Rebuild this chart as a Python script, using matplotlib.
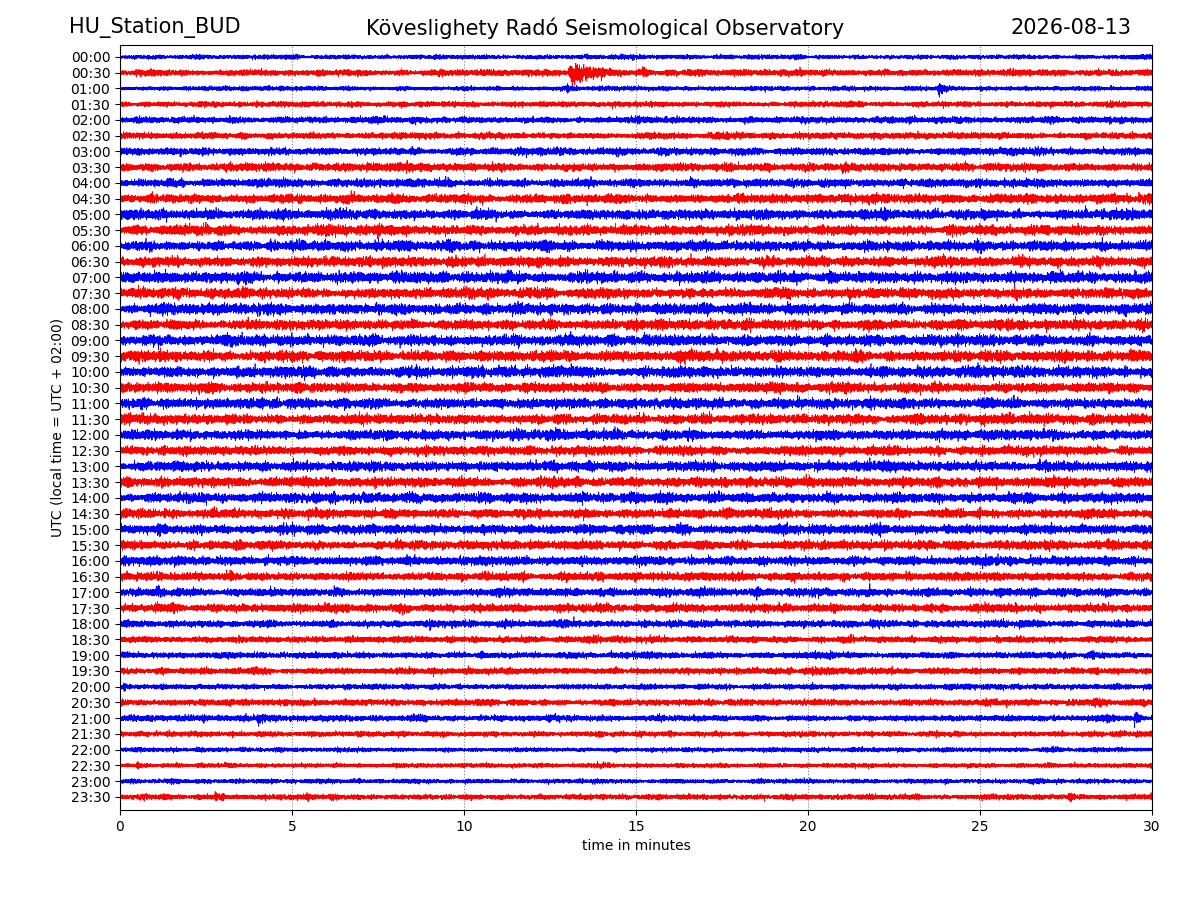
import numpy as np
import matplotlib
matplotlib.use("Agg")
import matplotlib.pyplot as plt

# row labels, half hour steps through the day
row_labels = [f"{h:02d}:{m:02d}" for h in range(24) for m in (0, 30)]

# typical half-width of each trace band (pixels)
band_px = [2.5, 3.5, 2.5, 3.0, 3.5, 3.5, 4.0, 4.5, 4.5, 5.0,
           5.5, 5.5, 5.5, 5.5, 6.0, 5.5, 6.0, 5.5, 6.0, 6.0,
           6.0, 5.5, 5.5, 5.5, 5.5, 5.0, 5.5, 5.5, 5.5, 5.0,
           5.0, 5.0, 5.0, 4.5, 4.5, 4.5, 4.0, 3.5, 3.5, 3.5,
           3.0, 3.5, 3.5, 3.0, 2.5, 2.5, 2.5, 3.0]

# visible events: row index, onset minute, peak half-width (px), duration (min)
event_row = [1, 1, 1, 2, 2, 4, 4, 7, 22, 24, 29, 31, 34, 34, 38, 40, 42, 42, 45, 47]
event_min = [13.1, 15.2, 9.3, 23.8, 13.0, 15.0, 12.0, 4.2, 19.7, 8.8,
             1.3, 28.7, 11.0, 18.5, 10.5, 0.1, 4.0, 29.5, 0.5, 27.6]
event_px = [11.0, 6.0, 5.0, 7.5, 4.5, 5.5, 5.0, 6.0, 8.0, 7.0,
            7.0, 7.0, 6.5, 6.0, 5.0, 5.0, 6.0, 8.0, 5.0, 6.5]
event_dur = [2.8, 0.6, 0.6, 0.7, 0.5, 0.6, 0.3, 0.5, 0.3, 0.6,
             0.2, 0.6, 0.4, 1.0, 0.4, 0.3, 1.3, 0.5, 0.4, 0.4]

ROW_PX = 15.74      # pixel distance between two rows
N = 18000           # samples per 30 min row
minutes = np.linspace(0, 30, N)

# the fine noise texture cannot be read from the picture; a fixed seed
# keeps it reproducible, only its amplitude comes from the values above
rng = np.random.default_rng(7)


def trace(i):
    carrier = rng.standard_normal(N)
    slow = np.convolve(rng.standard_normal(N + 299), np.hanning(300), "valid")
    slow /= slow.std()
    env = np.full(N, band_px[i] / 3.0) * (1 + 0.15 * slow)
    for r, t0, px, dur in zip(event_row, event_min, event_px, event_dur):
        if r != i:
            continue
        dt = minutes - t0
        burst = np.where(dt >= 0, np.exp(-dt / (dur / 2.5)), np.exp(dt / 0.05))
        env = np.maximum(env, px / 2.3 * burst)
    return carrier * env / ROW_PX


fig, ax = plt.subplots(figsize=(12, 9), dpi=100)
fig.subplots_adjust(left=0.1, right=0.96, top=0.95, bottom=0.1)

for i in range(len(row_labels)):
    color = "blue" if i % 2 == 0 else "red"
    ax.plot(minutes, i - trace(i), color=color, lw=0.5)

ax.set_xlim(0, 30)
ax.set_ylim(47.83, -0.76)
ax.set_xticks(range(0, 31, 5))
ax.set_yticks(range(len(row_labels)))
ax.set_yticklabels(row_labels)
ax.xaxis.grid(True, linestyle=":", color="gray", lw=0.8)
ax.set_axisbelow(True)
ax.set_xlabel("time in minutes")
ax.set_ylabel("UTC (local time = UTC + 02:00)")

fig.text(0.0575, 0.969, "HU_Station_BUD", fontsize=15, ha="left", va="center")
fig.text(0.504, 0.969, "Köveslighety Radó Seismological Observatory", fontsize=15,
         ha="center", va="center")
fig.text(0.9425, 0.969, "2026-08-13", fontsize=15, ha="right", va="center")

fig.savefig("out.png")
